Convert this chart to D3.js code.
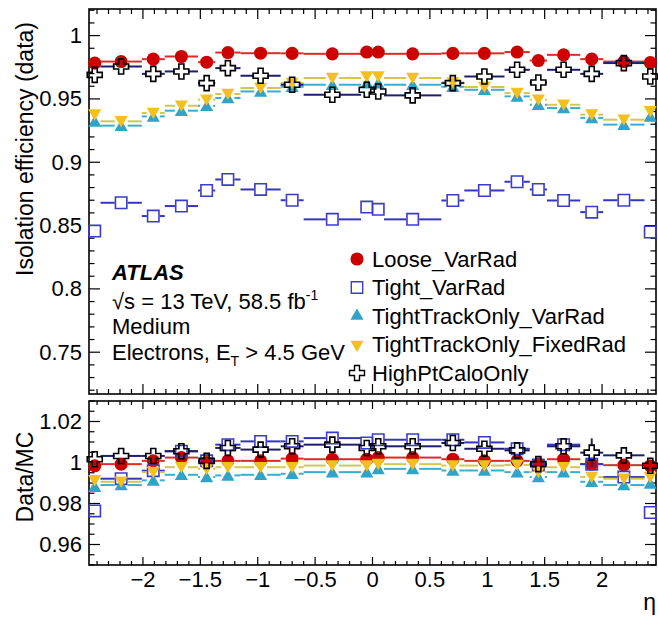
<!DOCTYPE html>
<html>
<head>
<meta charset="utf-8">
<script src="https://cdn.jsdelivr.net/npm/d3@7/dist/d3.min.js"></script>
<style>
  body { margin: 0; background: #fff; }
  svg text { font-family: "Liberation Sans", Arial, Helvetica, sans-serif; fill: #000; }
</style>
</head>
<body>
<div id="chart"></div>
<script>
// eta binning (electron)
const etaEdges = [-2.47, -2.37, -2.01, -1.81, -1.52, -1.37, -1.15, -0.8, -0.6, -0.1, 0, 0.1, 0.6, 0.8, 1.15, 1.37, 1.52, 1.81, 2.01, 2.37, 2.47];

const seriesNames = ["Loose_VarRad", "Tight_VarRad", "TightTrackOnly_VarRad", "TightTrackOnly_FixedRad", "HighPtCaloOnly"];

// isolation efficiency in data
const effLoose = [0.9783, 0.9795, 0.9814, 0.9835, 0.979, 0.9866, 0.9861, 0.986, 0.9856, 0.987, 0.987, 0.9856, 0.986, 0.986, 0.987, 0.9803, 0.9848, 0.9814, 0.9795, 0.9787];
const effTight = [0.8457, 0.868, 0.8575, 0.8654, 0.8777, 0.8864, 0.8785, 0.870, 0.8549, 0.8646, 0.8628, 0.8549, 0.8698, 0.8777, 0.8846, 0.8785, 0.8698, 0.8606, 0.870, 0.8449];
const effTrackVar = [0.9323, 0.9289, 0.9362, 0.9407, 0.9446, 0.9507, 0.9559, 0.9596, 0.9612, 0.9625, 0.9625, 0.9612, 0.9596, 0.9572, 0.952, 0.9454, 0.9428, 0.935, 0.9297, 0.9362];
const effTrackFixed = [0.9376, 0.9323, 0.9389, 0.9446, 0.9494, 0.9539, 0.9586, 0.9625, 0.9665, 0.9677, 0.9677, 0.9665, 0.963, 0.9594, 0.9546, 0.9494, 0.9454, 0.9376, 0.9336, 0.9402];
const effCalo = [0.969, 0.9756, 0.9698, 0.9717, 0.9625, 0.9743, 0.9683, 0.9612, 0.9533, 0.9572, 0.9559, 0.9528, 0.9625, 0.9677, 0.973, 0.963, 0.973, 0.9698, 0.9783, 0.9677];

// data / MC
const ratioLoose = [0.9984, 0.9992, 1.0008, 1.0024, 1.0, 1.0008, 1.0008, 1.0019, 1.0016, 1.0016, 1.0024, 1.0024, 1.0016, 1.0008, 1.0008, 0.9992, 1.0016, 0.9992, 0.9987, 0.9984];
const ratioTight = [0.9764, 0.9921, 0.996, 1.0055, 1.0008, 1.0087, 1.0103, 1.0103, 1.0119, 1.0095, 1.0111, 1.0111, 1.0111, 1.0098, 1.0067, 0.9988, 1.0087, 0.9992, 0.9929, 0.9756];
const ratioTrackVar = [0.9882, 0.989, 0.9913, 0.994, 0.9929, 0.9937, 0.994, 0.9945, 0.9953, 0.9953, 0.9969, 0.9969, 0.9961, 0.9961, 0.9953, 0.9929, 0.9953, 0.9906, 0.989, 0.9898];
const ratioTrackFixed = [0.9913, 0.9906, 0.9953, 0.9977, 0.9969, 0.9977, 0.9977, 0.9977, 0.9985, 0.9985, 0.9992, 0.9992, 0.9985, 0.9985, 0.9988, 0.9953, 0.9977, 0.9929, 0.9921, 0.9929];
const ratioCalo = [1.0016, 1.0032, 1.0032, 1.0055, 1.0008, 1.0071, 1.0063, 1.0079, 1.0087, 1.0071, 1.0079, 1.0079, 1.0095, 1.0067, 1.0059, 0.9992, 1.0079, 1.0048, 1.0035, 0.9984];
const ratioCaloErr = [0, 0, 0, 0, 0, 0, 0, 0, 0, 0, 0, 0, 0, 0, 0, 0, 0, 0.007, 0, 0];

const xTicks = [-2, -1.5, -1, -0.5, 0, 0.5, 1, 1.5, 2];
const yTopTicks = [0.75, 0.8, 0.85, 0.9, 0.95, 1];
const yBotTicks = [0.96, 0.98, 1, 1.02];

const atlasLines = ["Medium"];

const W = 658, H = 617;
const svg = d3.select("#chart").append("svg").attr("width", W).attr("height", H);

const x = d3.scaleLinear().domain([-2.47, 2.47]).range([89, 656]);
const yTop = d3.scaleLinear().domain([0.717, 1.021]).range([394, 9]);
const yBot = d3.scaleLinear().domain([0.95, 1.03]).range([565, 401]);

const styles = [
    { marker: "circle", fill: "#cc0000", stroke: "#cc0000", line: "#dd2a2a" },
    { marker: "square", fill: "none", stroke: "#3b3bcc", line: "#3535bb" },
    { marker: "triUp", fill: "#2fa3c8", stroke: "#2fa3c8", line: "#3aaed0" },
    { marker: "triDown", fill: "#f3c01e", stroke: "#f3c01e", line: "#d6c64a" },
    { marker: "cross", fill: "none", stroke: "#000", line: "#1e1e6a" }
];

function markerPath(kind) {
    if (kind === "circle") return d3.symbol(d3.symbolCircle, 135)();
    if (kind === "square") return d3.symbol(d3.symbolSquare, 130)();
    if (kind === "cross") return d3.symbol(d3.symbolCross, 125)();
    return d3.symbol(d3.symbolTriangle, 75)();
}

function drawSeries(g, y, vals, errs, st, halfMarker) {
    const bins = vals.map((v, i) => ({
        lo: etaEdges[i], hi: etaEdges[i + 1], c: (etaEdges[i] + etaEdges[i + 1]) / 2, v: v, e: errs ? errs[i] : 0
    }));
    const s = g.append("g");
    bins.forEach(b => {
        const cx = x(b.c), cy = y(b.v);
        if (x(b.lo) < cx - halfMarker)
            s.append("line").attr("x1", x(b.lo)).attr("x2", cx - halfMarker).attr("y1", cy).attr("y2", cy)
                .attr("stroke", st.line).attr("stroke-width", 2);
        if (x(b.hi) > cx + halfMarker)
            s.append("line").attr("x1", cx + halfMarker).attr("x2", x(b.hi)).attr("y1", cy).attr("y2", cy)
                .attr("stroke", st.line).attr("stroke-width", 2);
        if (b.e > 0) {
            s.append("line").attr("x1", cx).attr("x2", cx).attr("y1", y(b.v + b.e)).attr("y2", cy - halfMarker)
                .attr("stroke", st.line).attr("stroke-width", 2);
            s.append("line").attr("x1", cx).attr("x2", cx).attr("y1", cy + halfMarker).attr("y2", y(b.v - b.e))
                .attr("stroke", st.line).attr("stroke-width", 2);
        }
    });
    s.selectAll("path").data(bins).join("path")
        .attr("d", markerPath(st.marker))
        .attr("transform", d => {
            const cx = x(d.c), cy = y(d.v);
            if (st.marker === "triUp") return `translate(${cx},${cy + 1.5})`;
            if (st.marker === "triDown") return `translate(${cx},${cy - 1.5}) rotate(180)`;
            return `translate(${cx},${cy})`;
        })
        .attr("fill", st.fill)
        .attr("stroke", st.stroke)
        .attr("stroke-width", st.marker === "square" || st.marker === "cross" ? 1.6 : 0);
}

// frame with inward ticks on all four sides (ROOT style)
function drawFrame(y, yMajors, yMinorStep, showXLabels, xMajLen, yMajLen) {
    const g = svg.append("g");
    const [x0, x1] = x.range();
    const [y0, y1] = [y.range()[1], y.range()[0]];
    g.append("rect").attr("x", x0).attr("y", y0).attr("width", x1 - x0).attr("height", y1 - y0)
        .attr("fill", "none").attr("stroke", "#000").attr("stroke-width", 1.6);

    // x ticks
    const xMinor = d3.range(-24, 25).map(d => d / 10);
    xMinor.forEach(t => {
        const major = Math.abs(t * 2 - Math.round(t * 2)) < 1e-6;
        const len = major ? xMajLen : xMajLen / 2;
        g.append("line").attr("x1", x(t)).attr("x2", x(t)).attr("y1", y1).attr("y2", y1 - len).attr("stroke", "#000").attr("stroke-width", 1.2);
        g.append("line").attr("x1", x(t)).attr("x2", x(t)).attr("y1", y0).attr("y2", y0 + len).attr("stroke", "#000").attr("stroke-width", 1.2);
    });
    // y ticks
    const [d0, d1] = y.domain();
    const n0 = Math.ceil(d0 / yMinorStep - 1e-6), n1 = Math.floor(d1 / yMinorStep + 1e-6);
    d3.range(n0, n1 + 1).forEach(k => {
        const t = k * yMinorStep;
        const major = yMajors.some(m => Math.abs(m - t) < 1e-6);
        const len = major ? yMajLen : yMajLen / 2;
        g.append("line").attr("x1", x0).attr("x2", x0 + len).attr("y1", y(t)).attr("y2", y(t)).attr("stroke", "#000").attr("stroke-width", 1.2);
        g.append("line").attr("x1", x1).attr("x2", x1 - len).attr("y1", y(t)).attr("y2", y(t)).attr("stroke", "#000").attr("stroke-width", 1.2);
    });
    g.selectAll("text.ylab").data(yMajors).join("text")
        .attr("class", "ylab")
        .attr("x", x0 - 7).attr("y", d => y(d))
        .attr("text-anchor", "end").attr("dominant-baseline", "central")
        .style("font-size", "22px")
        .text(d => d3.format("")(d));
    if (showXLabels) {
        g.selectAll("text.xlab").data(xTicks).join("text")
            .attr("class", "xlab")
            .attr("x", d => x(d)).attr("y", y1 + 22)
            .attr("text-anchor", "middle")
            .style("font-size", "22px")
            .text(d => d3.format("")(d).replace("-", "\u2212"));
    }
}

const effAll = [effLoose, effTight, effTrackVar, effTrackFixed, effCalo];
const ratioAll = [ratioLoose, ratioTight, ratioTrackVar, ratioTrackFixed, ratioCalo];
const ratioErrAll = [null, null, null, null, ratioCaloErr];

drawFrame(yTop, yTopTicks, 0.01, false, 10, 11);
drawFrame(yBot, yBotTicks, 0.005, true, 8, 11);

const gTop = svg.append("g");
effAll.forEach((vals, i) => drawSeries(gTop, yTop, vals, null, styles[i], 6.5));
const gBot = svg.append("g");
ratioAll.forEach((vals, i) => drawSeries(gBot, yBot, vals, ratioErrAll[i], styles[i], 6.5));

// axis titles
svg.append("text")
    .attr("transform", "translate(33,22) rotate(-90)")
    .attr("text-anchor", "end")
    .style("font-size", "23px")
    .text("Isolation efficiency (data)");
svg.append("text")
    .attr("transform", "translate(33,477) rotate(-90)")
    .attr("text-anchor", "middle")
    .style("font-size", "23px")
    .text("Data/MC");
svg.append("text")
    .attr("x", 656).attr("y", 610)
    .attr("text-anchor", "end")
    .style("font-size", "23px")
    .text("\u03b7");

// legend
const leg = svg.append("g");
seriesNames.forEach((name, i) => {
    const ly = 259 + i * 28.5;
    const st = styles[i];
    let tr = `translate(357,${ly})`;
    if (st.marker === "triDown") tr += " rotate(180)";
    leg.append("path")
        .attr("d", markerPath(st.marker))
        .attr("transform", tr)
        .attr("fill", st.fill).attr("stroke", st.stroke)
        .attr("stroke-width", st.marker === "square" || st.marker === "cross" ? 1.4 : 0);
    leg.append("text")
        .attr("x", 372).attr("y", ly)
        .attr("dominant-baseline", "central")
        .style("font-size", "22px")
        .text(name);
});

// ATLAS label
const lab = svg.append("g").style("font-size", "22px");
lab.append("text").attr("x", 112).attr("y", 280)
    .style("font-weight", "bold").style("font-style", "italic")
    .text("ATLAS");
const t1 = lab.append("text").attr("x", 112).attr("y", 309);
t1.append("tspan").text("\u221as = 13 TeV, 58.5 fb");
t1.append("tspan").attr("dy", -9).style("font-size", "14px").text("-1");
lab.selectAll("text.extra").data(atlasLines).join("text")
    .attr("class", "extra")
    .attr("x", 112).attr("y", 334)
    .text(d => d);
const t3 = lab.append("text").attr("x", 112).attr("y", 360);
t3.append("tspan").text("Electrons, E");
t3.append("tspan").attr("dy", 6).style("font-size", "14px").text("T");
t3.append("tspan").attr("dy", -6).text(" > 4.5 GeV");
</script>
</body>
</html>
